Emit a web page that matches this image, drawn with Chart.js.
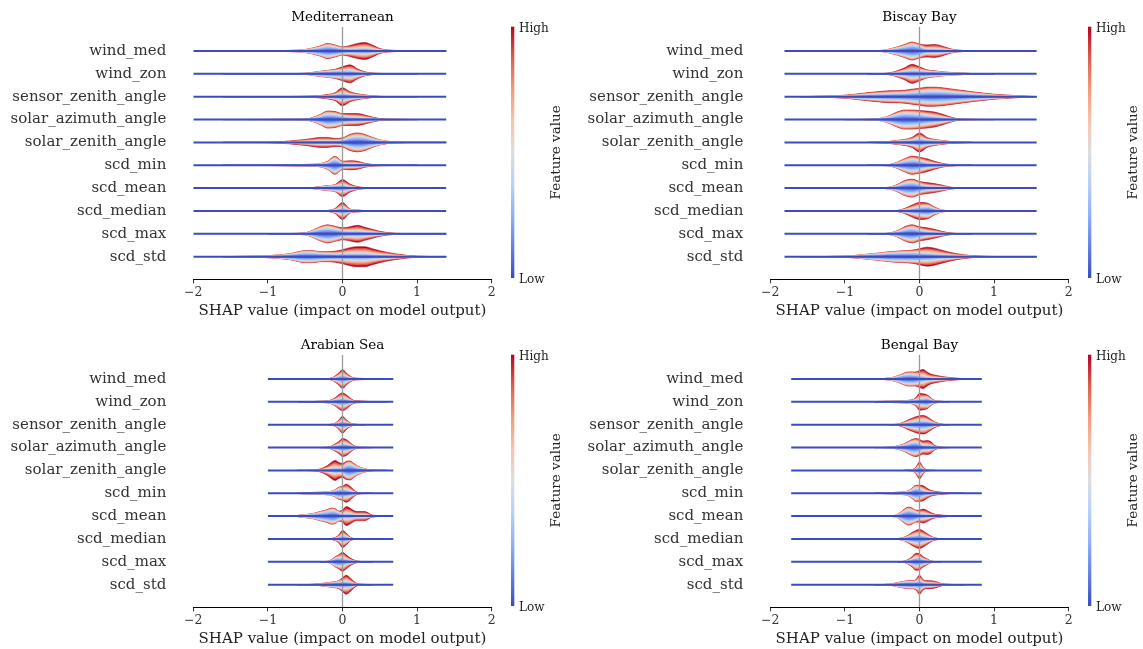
<!DOCTYPE html>
<html>
<head>
<meta charset="utf-8">
<script src="https://cdn.jsdelivr.net/npm/chart.js@4.4.0/dist/chart.umd.min.js"></script>
<style>
    html, body { margin: 0; padding: 0; background: #fff; }
    body { width: 1143px; height: 649px; position: relative; overflow: hidden; }
    .panel { position: absolute; width: 566px; height: 321px; }
</style>
</head>
<body>
<div class="panel" style="left:0px;top:0px"><canvas id="c0"></canvas></div>
<div class="panel" style="left:577px;top:0px"><canvas id="c1"></canvas></div>
<div class="panel" style="left:0px;top:328px"><canvas id="c2"></canvas></div>
<div class="panel" style="left:577px;top:328px"><canvas id="c3"></canvas></div>
<script>
        // --- DATA ---
        const features = ['wind_med', 'wind_zon', 'sensor_zenith_angle', 'solar_azimuth_angle', 'solar_zenith_angle',
                          'scd_min', 'scd_mean', 'scd_median', 'scd_max', 'scd_std'];
        const panelTitles = ['Mediterranean', 'Biscay Bay', 'Arabian Sea', 'Bengal Bay'];
        const xTicks = [-2, -1, 0, 1, 2];

        const xGridTop = [-1.6, -1.0, -0.7, -0.5, -0.4, -0.3, -0.2, -0.1, 0, 0.1, 0.2, 0.3, 0.4, 0.5, 0.7, 1.0, 1.6];
        const xGridBottom = [-0.6, -0.4, -0.3, -0.2, -0.15, -0.1, -0.05, 0, 0.05, 0.1, 0.15, 0.2, 0.3, 0.4, 0.6];

        // min / max SHAP of each panel (the long horizontal lines)
        const lineRanges = [[-2.0, 1.39], [-1.81, 1.57], [-1.0, 0.68], [-1.72, 0.835]];

        // half-width of the violin part made of low feature values (blue) and high values (red)
        const medBlue = [
            [0, 0.3, 0.5, 1.3, 2.6, 4.3, 6.4, 5, 3, 2, 2.2, 2.5, 1.8, 0.8, 0.2, 0.1, 0],
            [0, 0.1, 0.3, 0.5, 1.3, 2.2, 3, 3.5, 3.5, 3.5, 2, 0.8, 0.3, 0.2, 0.1, 0, 0],
            [0, 0.1, 0.1, 0.2, 0.4, 0.6, 1, 1.8, 3.5, 2.2, 1.4, 0.9, 0.4, 0.2, 0.1, 0, 0],
            [0, 0.1, 0.3, 0.4, 1.7, 4.2, 7, 6.2, 4, 2.5, 2, 1.5, 0.8, 0.3, 0.1, 0, 0],
            [0, 0.1, 0.4, 0.8, 1, 1.2, 1.2, 1.2, 2.5, 6.2, 7.6, 6.4, 4, 2, 0.4, 0.1, 0],
            [0, 0.2, 0.4, 0.7, 0.9, 1.3, 3.4, 7.6, 2.5, 1.3, 1.2, 0.6, 0.3, 0.1, 0.1, 0, 0],
            [0, 0, 0.1, 0.2, 0.4, 1.2, 2, 2.8, 3, 1.2, 0.4, 0.1, 0, 0, 0, 0, 0],
            [0, 0, 0, 0, 0, 0.1, 0.3, 1, 3, 1, 0.7, 0.2, 0, 0, 0, 0, 0],
            [0, 0, 0.3, 0.9, 3, 6, 7.6, 6, 3.5, 2.5, 2.5, 2, 1.3, 0.7, 0.1, 0, 0],
            [0.1, 0.9, 2.6, 5.2, 5.1, 4, 3.5, 3, 3, 3, 3, 2.8, 2.2, 1.6, 0.8, 0.1, 0]
        ];
        const medRed = [
            [0, 0, 0.1, 0.2, 0.4, 0.7, 1.1, 1, 1, 3.5, 5.3, 6, 4.2, 1.7, 0.4, 0.1, 0],
            [0, 0, 0, 0, 0.2, 0.3, 0.5, 1, 3.5, 5.5, 3, 1.2, 0.5, 0.2, 0.1, 0, 0],
            [0, 0, 0.1, 0.2, 0.3, 0.6, 1.2, 2.2, 5.5, 2.8, 1.6, 0.9, 0.4, 0.1, 0, 0, 0],
            [0, 0, 0, 0.1, 0.3, 0.8, 1.5, 1.8, 2, 3.5, 4, 3, 1.7, 0.7, 0.2, 0, 0],
            [0, 0.1, 1.1, 2.2, 3, 3.8, 3.8, 2.8, 2, 1.8, 1.9, 1.6, 1, 0.5, 0.1, 0, 0],
            [0, 0, 0.1, 0.1, 0.1, 0.2, 0.6, 1.4, 1.5, 3.2, 2.8, 1.4, 0.5, 0.3, 0.1, 0, 0],
            [0, 0, 0, 0, 0.1, 0.3, 0.5, 0.7, 5.5, 2.8, 1.1, 0.4, 0.2, 0, 0, 0, 0],
            [0, 0, 0, 0, 0, 0.1, 0.2, 1.5, 5.5, 1, 0.3, 0.1, 0, 0, 0, 0, 0],
            [0, 0, 0, 0.1, 0.5, 1, 1.4, 1.5, 2.5, 4.5, 6, 4.5, 3.2, 1.8, 0.4, 0.1, 0],
            [0, 0.1, 0.4, 0.8, 0.9, 1, 1.5, 2.5, 4, 6, 7, 7.2, 5.8, 4.4, 2.2, 0.4, 0]
        ];
        const bisBlue = [
            [0, 0, 0.2, 0.5, 1.7, 3.4, 5.5, 7.6, 5.5, 2, 2, 1.6, 0.8, 0.3, 0.1, 0, 0],
            [0, 0, 0, 0.1, 0.4, 1.2, 2.4, 3.8, 3.5, 2.8, 2.4, 1.7, 1.3, 0.9, 0.3, 0, 0],
            [0, 0.8, 2.4, 3.3, 3.6, 3.8, 4.3, 5.2, 6, 6.8, 7, 6.6, 5.8, 5, 3.4, 1.3, 0],
            [0, 0, 0.2, 1.3, 3.4, 6.2, 7.8, 7.4, 6.3, 4.8, 3.5, 2.2, 1, 0.3, 0.1, 0, 0],
            [0, 0, 0, 0.4, 0.8, 1.4, 1.8, 2.5, 4, 2.5, 1.8, 1.3, 0.7, 0.4, 0, 0, 0],
            [0, 0, 0, 0.2, 0.6, 2.4, 5.2, 7, 5.5, 2.6, 1.4, 0.6, 0.3, 0.1, 0, 0, 0],
            [0, 0, 0, 0.2, 0.8, 2.8, 6, 7.2, 4.5, 1.8, 1.3, 0.8, 0.3, 0.1, 0, 0, 0],
            [0, 0, 0, 0, 0.1, 0.2, 1, 2.4, 4, 5.2, 2.6, 0.7, 0.2, 0, 0, 0, 0],
            [0, 0, 0, 0.2, 0.6, 2.4, 5.5, 7, 4.5, 2.2, 1.3, 0.6, 0.2, 0.1, 0, 0, 0],
            [0, 0.5, 2.3, 3.6, 4.4, 4.7, 5, 5, 4.5, 3.5, 2.8, 2, 1.4, 0.9, 0.3, 0.1, 0]
        ];
        const bisRed = [
            [0, 0, 0, 0.1, 0.3, 0.6, 1, 1.4, 1.5, 4, 4.5, 3.4, 1.7, 0.7, 0.2, 0, 0],
            [0, 0, 0, 0.2, 0.6, 1.8, 3.6, 5.7, 3.5, 1.2, 0.6, 0.3, 0.2, 0.1, 0, 0, 0],
            [0, 0.7, 1.6, 2.2, 2.4, 2.2, 2.2, 2.3, 2.5, 2.7, 2.5, 2.4, 2.2, 2, 1.6, 1.2, 0],
            [0, 0, 0, 0.2, 0.6, 1.3, 1.7, 2.1, 2.7, 3.7, 4, 3.3, 2, 0.7, 0.1, 0, 0],
            [0, 0, 0, 0.1, 0.2, 0.6, 1.2, 2.5, 5.5, 2.5, 1.2, 0.7, 0.3, 0.1, 0, 0, 0],
            [0, 0, 0, 0.1, 0.1, 0.6, 1.3, 2, 2.5, 3.9, 2.6, 1.4, 0.5, 0.2, 0, 0, 0],
            [0, 0, 0, 0.1, 0.2, 0.7, 1.5, 1.8, 2, 3.7, 3.2, 2.2, 0.9, 0.2, 0, 0, 0],
            [0, 0, 0, 0, 0, 0.3, 1.5, 3.6, 4.5, 2.8, 1.4, 0.3, 0.1, 0, 0, 0, 0],
            [0, 0, 0, 0, 0.2, 0.6, 1.5, 2, 2.5, 3.8, 3.2, 1.9, 0.8, 0.2, 0, 0, 0],
            [0, 0, 0.2, 0.4, 0.6, 0.8, 1, 1.5, 3.5, 6, 5.7, 4.5, 3.1, 2.1, 0.7, 0.1, 0]
        ];
        const arabBlue = [
            [0, 0, 0, 0.1, 0.4, 1.4, 3, 4.5, 3, 1.4, 0.4, 0.2, 0.1, 0, 0],
            [0, 0.3, 0.5, 0.8, 1.3, 2.2, 3.5, 4.2, 3.2, 1.5, 0.4, 0.2, 0.1, 0, 0],
            [0, 0, 0, 0, 0.3, 0.8, 2.2, 4, 2.5, 1, 0.3, 0.1, 0, 0, 0],
            [0, 0, 0, 0.2, 0.7, 1.7, 3, 4.5, 4, 2.5, 1, 0.3, 0.1, 0, 0],
            [0, 0.1, 0.3, 1, 1.6, 2, 2, 3, 6.7, 7.5, 5.6, 3.6, 1.2, 0.2, 0],
            [0.3, 0.8, 1, 1.4, 1.8, 3, 5, 5, 4, 2.5, 1, 0.3, 0.1, 0, 0],
            [0.6, 2.2, 4, 5.8, 7, 6.5, 4, 2, 2, 1.8, 1.2, 0.8, 0.6, 0.2, 0],
            [0, 0, 0, 0, 0.2, 0.6, 1.6, 3.5, 2.5, 0.8, 0.2, 0, 0, 0, 0],
            [0, 0, 0, 0.4, 1.6, 4, 5, 4.5, 2.5, 1.2, 0.5, 0.2, 0, 0, 0],
            [0, 0.3, 0.9, 1.7, 2.1, 2.5, 3, 3.5, 3, 2, 0.8, 0.3, 0.1, 0, 0]
        ];
        const arabRed = [
            [0, 0, 0, 0.2, 0.6, 1.6, 3, 5, 3, 1.6, 0.8, 0.6, 0.4, 0.3, 0],
            [0, 0, 0.1, 0.2, 0.7, 1.8, 3.5, 4.8, 3.8, 2.5, 1.1, 0.8, 0.5, 0.2, 0],
            [0, 0, 0, 0, 0.2, 0.7, 2.3, 4.5, 2.5, 1, 0.4, 0.2, 0, 0, 0],
            [0, 0, 0, 0.3, 0.8, 1.8, 3, 4.5, 4, 2.5, 1, 0.4, 0.1, 0, 0],
            [0, 0.2, 1.2, 4, 6.4, 8, 6, 4, 2.3, 2, 1.4, 0.9, 0.3, 0.1, 0],
            [0, 0, 0, 0.1, 0.2, 0.5, 1, 2, 5, 4.5, 2.5, 0.7, 0.2, 0, 0],
            [0.1, 0.3, 0.5, 0.7, 1, 1, 1, 4, 7.5, 6.2, 4.3, 3.7, 3.9, 0.8, 0.1],
            [0, 0, 0, 0, 0.3, 0.9, 2.4, 5, 3.5, 1.2, 0.3, 0.1, 0, 0, 0],
            [0, 0, 0, 0.1, 0.4, 1, 2, 5, 4.5, 2.8, 1.5, 0.5, 0.2, 0, 0],
            [0, 0, 0.1, 0.3, 0.4, 0.5, 1, 3.5, 6.5, 5, 2.7, 0.7, 0.2, 0, 0]
        ];
        const bengBlue = [
            [0.2, 0.9, 2.6, 5.2, 6, 5.8, 5, 3.5, 2.5, 1.5, 1, 0.8, 0.4, 0.2, 0],
            [0.3, 0.6, 0.8, 1.1, 1.3, 1.5, 2, 3, 3.5, 4.5, 2.5, 0.9, 0.3, 0, 0],
            [0, 0, 0.3, 1.5, 2.5, 3.3, 4, 4.5, 4.8, 4.2, 2.8, 1.5, 0.2, 0, 0],
            [0, 0.3, 1.3, 3.4, 5, 6.5, 6.8, 5, 2.5, 2, 1.6, 0.7, 0.1, 0, 0],
            [0, 0, 0, 0, 0.1, 0.4, 1.5, 4, 1.5, 0.4, 0.1, 0, 0, 0, 0],
            [0.1, 0.5, 0.9, 1.3, 2.2, 4.3, 6.5, 5.5, 3, 1.5, 0.8, 0.5, 0.2, 0.1, 0],
            [0, 0.3, 1.3, 6, 7.6, 6.8, 4.8, 3, 2, 1.5, 0.8, 0.4, 0.2, 0.1, 0],
            [0, 0, 0.2, 1.3, 2.5, 3.6, 4.3, 4.5, 3.5, 2.3, 1.2, 0.4, 0.1, 0, 0],
            [0, 0, 0, 0.4, 1.3, 2.7, 4.5, 4.2, 2.6, 1.4, 0.4, 0.1, 0, 0, 0],
            [0, 0.5, 1.8, 3, 3.3, 3.2, 3.5, 4.5, 2.5, 1.5, 1.2, 1, 0.3, 0.1, 0]
        ];
        const bengRed = [
            [0, 0.1, 0.4, 0.8, 1, 1.2, 2, 5, 7, 5.5, 4, 3.2, 2.1, 1.3, 0.3],
            [0, 0, 0, 0.1, 0.2, 0.5, 2, 5.5, 4.5, 2.5, 1.5, 0.6, 0.2, 0, 0],
            [0, 0, 0.2, 1.5, 2.5, 3.2, 4, 4.5, 4.5, 3.8, 2.7, 1.5, 0.3, 0, 0],
            [0, 0, 0.2, 0.6, 1, 1.5, 2.2, 3, 4, 5, 4.4, 1.8, 0.3, 0, 0],
            [0, 0, 0, 0, 0.1, 0.3, 1.5, 4.5, 1.5, 0.3, 0.1, 0, 0, 0, 0],
            [0, 0, 0.1, 0.2, 0.3, 0.7, 1.5, 2.5, 4.5, 3.5, 2.2, 1.5, 0.8, 0.2, 0],
            [0, 0, 0.2, 1, 1.4, 1.2, 1.2, 3, 5, 4, 2.7, 1.6, 0.8, 0.2, 0],
            [0, 0, 0.1, 0.7, 1.5, 2.9, 4.2, 5, 4.5, 3.2, 1.8, 0.8, 0.2, 0, 0],
            [0, 0, 0, 0.3, 1.2, 2.3, 4, 3.8, 2.4, 1.6, 0.6, 0.2, 0, 0, 0],
            [0, 0, 0.2, 0.5, 0.7, 0.8, 1.5, 5, 2.5, 2.5, 2.8, 2.5, 0.7, 0.2, 0]
        ];

        // --- STYLE ---
        const FONT = "'DejaVu Serif', serif";
        Chart.defaults.font.family = FONT;
        const LAYERS = 8;
        const ROW_PER_PX = 1 / 22.86;   // violin widths are in px, rows are 22.86px apart
        const Y_MIN = -1.05, Y_MAX = 9.99;
        const LINE_BLUE = '#3b4cc0';

        // coolwarm colormap stops
        const cwStops = [
            [59, 76, 192], [98, 130, 234], [141, 176, 254], [184, 208, 249], [221, 221, 221],
            [245, 196, 173], [244, 154, 123], [222, 96, 77], [180, 4, 38]
        ];
        function coolwarm(t) {
            const p = t * (cwStops.length - 1);
            const i = Math.min(Math.floor(p), cwStops.length - 2);
            const f = p - i;
            const c = cwStops[i].map((v, j) => Math.round(v + (cwStops[i + 1][j] - v) * f));
            return `rgb(${c[0]},${c[1]},${c[2]})`;
        }

        function buildDatasets(grid, blues, reds, range) {
            const ds = [];
            // grid points outside the line range are pulled onto its ends
            const gx = grid.map(x => Math.min(Math.max(x, range[0]), range[1]));
            features.forEach((name, row) => {
                const b = blues[row], r = reds[row];
                // keep only the part of the grid where the violin has some width (+ one zero point each side)
                const nz = grid.map((x, i) => b[i] + r[i] > 0);
                const first = Math.max(0, nz.indexOf(true) - 1);
                const last = Math.min(grid.length - 1, nz.lastIndexOf(true) + 1);
                const idx = grid.map((x, i) => i).filter(i => i >= first && i <= last);
                let cum = idx.map(() => 0);
                // innermost layer = low feature values (blue), outermost = high (red)
                for (let k = 0; k < LAYERS; k++) {
                    const t = k / (LAYERS - 1);
                    cum = cum.map((c, j) => c + (b[idx[j]] * (1 - t) + r[idx[j]] * t) * 2 / LAYERS);
                    const col = coolwarm(0.08 + 0.92 * t);
                    const common = {
                        borderColor: col, borderWidth: 0.6, pointRadius: 0,
                        cubicInterpolationMode: 'monotone', order: 100 + k
                    };
                    ds.push(Object.assign({
                        data: idx.map((i, j) => ({ x: gx[i], y: row - cum[j] * ROW_PER_PX })),
                        fill: '+1', backgroundColor: col
                    }, common));
                    ds.push(Object.assign({
                        data: idx.map((i, j) => ({ x: gx[i], y: row + cum[j] * ROW_PER_PX })),
                        fill: false
                    }, common));
                }
                ds.push({
                    data: [{ x: range[0], y: row }, { x: range[1], y: row }],
                    borderColor: LINE_BLUE, borderWidth: 2, pointRadius: 0, fill: false, order: 0
                });
            });
            // zero reference line
            ds.push({
                data: [{ x: 0, y: Y_MIN }, { x: 0, y: Y_MAX }],
                borderColor: '#999999', borderWidth: 1.3, pointRadius: 0, fill: false, order: 50
            });
            return ds;
        }

        const colorbarPlugin = {
            id: 'colorbar',
            afterDraw(chart) {
                const { ctx, chartArea } = chart;
                const x = chartArea.right + 19.3, w = 3.3;
                const top = chartArea.top - 0.3, bottom = chartArea.bottom - 1.3;
                const grad = ctx.createLinearGradient(0, bottom, 0, top);
                cwStops.forEach((c, i) => grad.addColorStop(i / (cwStops.length - 1), `rgb(${c[0]},${c[1]},${c[2]})`));
                ctx.save();
                ctx.fillStyle = grad;
                ctx.fillRect(x, top, w, bottom - top);
                ctx.fillStyle = '#222';
                ctx.font = `12px ${FONT}`;
                ctx.textAlign = 'left';
                ctx.textBaseline = 'middle';
                ctx.fillText('High', x + 8, top + 2.5);
                ctx.fillText('Low', x + 8, bottom + 2);
                ctx.translate(chartArea.right + 64.3, (top + bottom) / 2);
                ctx.rotate(-Math.PI / 2);
                ctx.textAlign = 'center';
                ctx.font = `13.5px ${FONT}`;
                ctx.fillText('Feature value', 0, 0);
                ctx.restore();
            }
        };

        const panelData = [
            [xGridTop, medBlue, medRed],
            [xGridTop, bisBlue, bisRed],
            [xGridBottom, arabBlue, arabRed],
            [xGridBottom, bengBlue, bengRed]
        ];

        panelData.forEach((p, idx) => {
            const ctx = document.getElementById('c' + idx).getContext('2d');
            new Chart(ctx, {
                type: 'line',
                data: { datasets: buildDatasets(p[0], p[1], p[2], lineRanges[idx]) },
                plugins: [colorbarPlugin],
                options: {
                    animation: false,
                    responsive: true,
                    maintainAspectRatio: false,
                    layout: { padding: { left: 0, right: 74.3, top: 0, bottom: 0 } },
                    plugins: {
                        legend: { display: false },
                        tooltip: { enabled: false },
                        title: {
                            display: true, text: panelTitles[idx], fullSize: false,
                            color: '#000', font: { size: 13.5, weight: 'normal', family: FONT },
                            padding: { top: 8.9, bottom: 1.9 }
                        }
                    },
                    scales: {
                        x: {
                            type: 'linear', min: -2, max: 2,
                            afterBuildTicks: s => { s.ticks = xTicks.map(v => ({ value: v })); },
                            ticks: {
                                color: '#333', font: { size: 12.5 }, padding: 2, maxRotation: 0,
                                callback: v => v < 0 ? '\u2212' + Math.abs(v) : String(v)
                            },
                            grid: { display: true, drawOnChartArea: false, drawTicks: true, tickLength: 4, tickColor: '#333' },
                            border: { display: true, color: '#000', width: 1 },
                            title: {
                                display: true, text: 'SHAP value (impact on model output)',
                                color: '#222', font: { size: 15 }, padding: { top: 0, bottom: 1 }
                            },
                            afterFit: s => {
                                s.height = 41.7;
                                s.paddingLeft = 0; s.paddingRight = 0;
                            }
                        },
                        y: {
                            type: 'linear', reverse: true, min: Y_MIN, max: Y_MAX,
                            afterBuildTicks: s => { s.ticks = features.map((f, i) => ({ value: i })); },
                            ticks: {
                                color: '#333', font: { size: 15 }, padding: 27, autoSkip: false,
                                callback: v => features[v]
                            },
                            grid: { display: false, drawTicks: false },
                            border: { display: false },
                            afterFit: s => {
                                s.width = 193.3;
                                s.paddingTop = 0; s.paddingBottom = 0;
                            }
                        }
                    }
                }
            });
        });
</script>
</body>
</html>
